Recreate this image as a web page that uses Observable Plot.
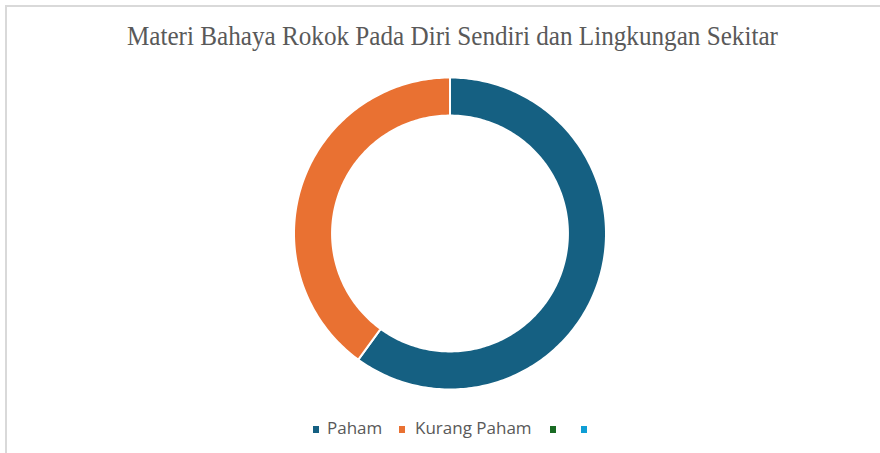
<!DOCTYPE html>
<html>
<head>
<meta charset="utf-8">
<script src="https://cdn.jsdelivr.net/npm/d3@7"></script>
<script src="https://cdn.jsdelivr.net/npm/@observablehq/plot@0.6"></script>
<style>
  html, body { margin: 0; padding: 0; background: #fff; }
  #wrap { position: relative; width: 880px; height: 453px; overflow: hidden; background: #fff; }
  #frame { position: absolute; left: 5px; top: 5px; width: 1000px; height: 1000px; border: 2px solid #d9d9d9; box-sizing: border-box; pointer-events: none; }
  #chart { position: absolute; left: 0; top: 0; }
  #title { position: absolute; top: 21px; left: 0; width: 880px; text-align: center; white-space: nowrap;
           font-family: "Liberation Serif", "Times New Roman", serif; font-size: 27px; color: #595959; }
  .leg { position: absolute; top: 418px; font-family: "Open Sans", sans-serif; font-size: 17px; color: #595959; white-space: nowrap; line-height: 20px; }
  .sw { position: absolute; width: 6px; height: 7px; }
</style>
</head>
<body>
<div id="wrap">
  <div id="frame"></div>
  <div id="chart"></div>
  <div id="title"><span id="titletext"></span></div>
  <div id="legend"></div>
</div>
<script>
const title = "Materi Bahaya Rokok Pada Diri Sendiri dan Lingkungan Sekitar";
const categories = ["Paham", "Kurang Paham", "", ""];
const values = [60, 40, 0, 0];
const colors = ["#156082", "#E97132", "#196B24", "#0F9ED5"];

const innerRatio = 0.756;
const total = d3.sum(values);
const pts = [];
let acc = 0;
categories.forEach((c, i) => {
  const v = values[i];
  if (v <= 0) { return; }
  const a0 = acc / total * 2 * Math.PI;
  const a1 = (acc + v) / total * 2 * Math.PI;
  acc += v;
  const n = Math.max(8, Math.ceil((a1 - a0) / (Math.PI / 180)));
  for (let k = 0; k <= n; k++) {
    const a = a0 + (a1 - a0) * k / n;
    pts.push({cat: c, x: Math.sin(a), y: Math.cos(a)});
  }
  for (let k = n; k >= 0; k--) {
    const a = a0 + (a1 - a0) * k / n;
    pts.push({cat: c, x: innerRatio * Math.sin(a), y: innerRatio * Math.cos(a)});
  }
});

const cx = 449.5, cy = 233, R = 156;
const plot = Plot.plot({
  width: 880,
  height: 453,
  margin: 0,
  style: {background: "transparent"},
  x: {domain: [-1, 1], range: [cx - R, cx + R], axis: null},
  y: {domain: [-1, 1], range: [cy + R, cy - R], axis: null},
  color: {domain: categories, range: colors},
  marks: [
    Plot.line(pts, {x: "x", y: "y", z: "cat", fill: "cat", stroke: "white", strokeWidth: 2, curve: "linear-closed"})
  ]
});
document.getElementById("chart").appendChild(plot);

document.getElementById("titletext").textContent = title;
const tt = document.getElementById("titletext");
tt.style.display = "inline-block";
const w = tt.getBoundingClientRect().width;
const targetW = 651;
tt.style.transform = `scaleX(${targetW / w})`;
tt.style.transformOrigin = "center";
document.getElementById("title").style.left = "12px";

const legPos = [{sx: 313, tx: 327}, {sx: 399, tx: 415}, {sx: 550, tx: 564}, {sx: 581, tx: 595}];
const leg = document.getElementById("legend");
categories.forEach((c, i) => {
  const sw = document.createElement("div");
  sw.className = "sw";
  sw.style.left = legPos[i].sx + "px";
  sw.style.top = "426px";
  sw.style.background = colors[i];
  leg.appendChild(sw);
  const t = document.createElement("div");
  t.className = "leg";
  t.style.left = legPos[i].tx + "px";
  t.textContent = c;
  leg.appendChild(t);
});
</script>
</body>
</html>
